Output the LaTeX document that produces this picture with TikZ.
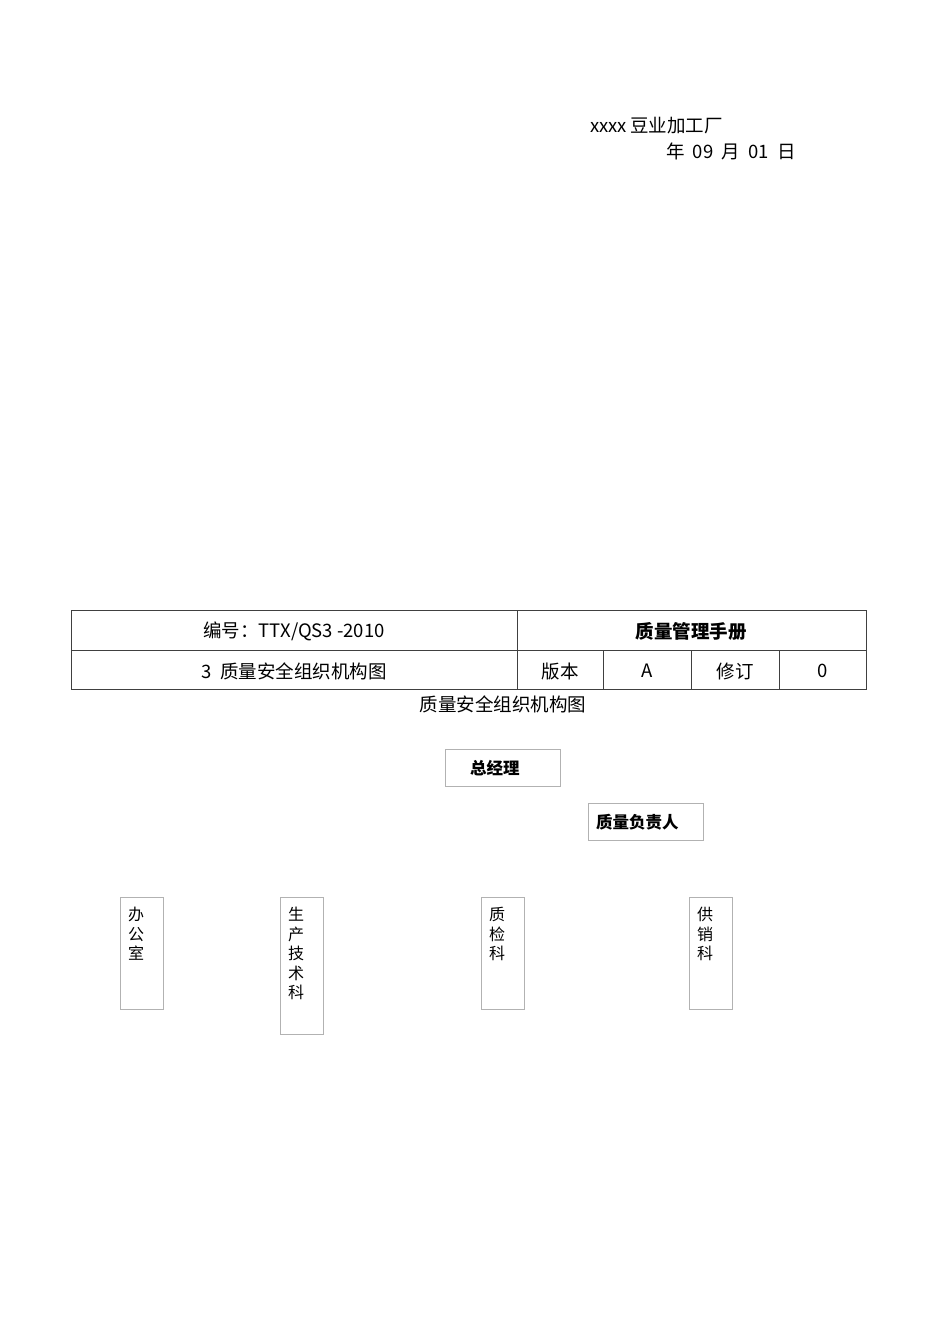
\documentclass[tikz,border=0pt]{standalone}
\usepackage{fontspec}
\setmainfont{Liberation Serif}
\newfontfamily\cjk{Noto Sans CJK SC}
\usetikzlibrary{positioning}

\tikzset{
  head/.style={font=\cjk\fontsize{18.5}{20}\selectfont, inner sep=0pt},
  rule/.style={draw=black!75, line width=1pt},
  orgbox/.style={draw=black!30, line width=1pt, inner sep=0pt, anchor=north west},
  orgtext/.style={font=\cjk\bfseries\fontsize{16.5}{19.5}\selectfont, inner sep=0pt},
  vtext/.style={font=\cjk\fontsize{16}{19.5}\selectfont, inner sep=0pt,
                anchor=north west, align=left}
}

\begin{document}
\begin{tikzpicture}[x=1pt, y=-1pt]
  \useasboundingbox (0,0) rectangle (950,1344);

  % factory and date
  \node[head, anchor=west] (factory) at (590,126) {xxxx\,豆业加工厂};
  \node[head, anchor=west] (date) at (666,151) {年\ \ 09\ \ 月\ \ 01\ \ 日};

  % header table
  \draw[rule] (71,610) rectangle (866,689);
  \draw[rule] (71,650) -- (866,650);
  \draw[rule] (517,610) -- (517,689);
  \foreach \x in {603,691,779}
    \draw[rule] (\x,650) -- (\x,689);

  \node[head] (code) at (294,631) {编号：TTX/QS3\ -2010};
  \node[head, font=\cjk\bfseries\fontsize{18.5}{20}\selectfont] (manual) at (691,631) {质量管理手册};
  \node[head] (section) at (294,671) {3\ \ 质量安全组织机构图};
  \node[head] (version) at (560,671) {版本};
  \node[head] (vval) at (647,671) {A};
  \node[head] (revise) at (735,671) {修订};
  \node[head] (rval) at (823,671) {0};

  \node[head] (title) at (503,704) {质量安全组织机构图};

  % org boxes
  \node[orgbox, minimum width=115pt, minimum height=37pt] (gm) at (445,749) {};
  \node[orgtext, anchor=west] at ([xshift=25pt]gm.west) {总经理};

  \node[orgbox, minimum width=115pt, minimum height=37pt] (qm) at (588,803) {};
  \node[orgtext, anchor=west] at ([xshift=8pt]qm.west) {质量负责人};

  \node[orgbox, minimum width=43pt, minimum height=112pt] (office) at (120,897) {};
  \node[vtext] at ([shift={(8pt,-10pt)}]office.north west) {办\\公\\室};

  \node[orgbox, minimum width=43pt, minimum height=137pt] (prod) at (280,897) {};
  \node[vtext] at ([shift={(8pt,-10pt)}]prod.north west) {生\\产\\技\\术\\科};

  \node[orgbox, minimum width=43pt, minimum height=112pt] (qc) at (481,897) {};
  \node[vtext] at ([shift={(8pt,-10pt)}]qc.north west) {质\\检\\科};

  \node[orgbox, minimum width=43pt, minimum height=112pt] (supply) at (689,897) {};
  \node[vtext] at ([shift={(8pt,-10pt)}]supply.north west) {供\\销\\科};
\end{tikzpicture}
\end{document}
